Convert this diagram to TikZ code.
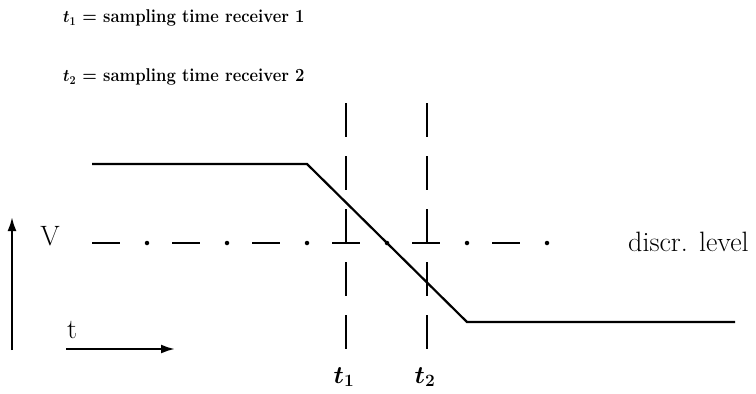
\documentclass[tikz,border=0pt]{standalone}
\usetikzlibrary{arrows.meta}
\begin{document}
\begin{tikzpicture}[x=1pt,y=-1pt,
  sig/.style={line width=2.2pt},
  vdash/.style={line width=2pt, dash pattern=on 34pt off 19pt},
  hdash/.style={line width=2pt, dash pattern=on 28pt off 52pt},
  dotmark/.style={circle, fill, inner sep=0pt, minimum size=4.5pt},
  axis/.style={line width=2.2pt, -{Latex[length=14pt,width=9pt]}},
  toptext/.style={anchor=west, inner sep=0pt, font=\fontsize{18.5}{20}\selectfont\bfseries\boldmath},
  lbl/.style={inner sep=0pt, font=\fontsize{28}{30}\selectfont},
  tlbl/.style={inner sep=0pt, font=\fontsize{27}{29}\selectfont\boldmath}
]
\useasboundingbox (0,0) rectangle (756,394);
% top text
\node[toptext] (l1) at (63,18) {\scalebox{0.9}[1]{$t_1$ = sampling time receiver 1}};
\node[toptext] (l2) at (63,77) {\scalebox{0.9}[1]{$t_2$ = sampling time receiver 2}};
% signal
\coordinate (s0) at (92,164);
\coordinate (s1) at (307,164);
\coordinate (s2) at (467,322);
\coordinate (s3) at (735,322);
\draw[sig] (s0) -- (s1) -- (s2) -- (s3);
% discrimination level
\coordinate (d0) at (92,243);
\coordinate (d1) at (549,243);
\draw[hdash] (d0) -- (d1);
\foreach \i in {0,...,5} {
  \node[dotmark] (dot\i) at ({147+80*\i},243) {};
}
% sampling lines
\coordinate (a0) at (346,103);
\coordinate (a1) at (346,349);
\coordinate (b0) at (427,103);
\coordinate (b1) at (427,349);
\draw[vdash] (a0) -- (a1);
\draw[vdash] (b0) -- (b1);
\node[tlbl] (t1) at (344,377) {$t_1$};
\node[tlbl] (t2) at (425,377) {$t_2$};
% axes
\coordinate (v0) at (12,350);
\coordinate (v1) at (12,217);
\draw[axis] (v0) -- (v1);
\node[lbl] (V) at (50,236) {V};
\coordinate (h0) at (66,349);
\coordinate (h1) at (175,349);
\draw[axis] (h0) -- (h1);
\node[lbl] (t) at (72,330) {t};
\node[lbl, anchor=west] (disc) at (628,242) {discr. level};
\end{tikzpicture}
\end{document}
